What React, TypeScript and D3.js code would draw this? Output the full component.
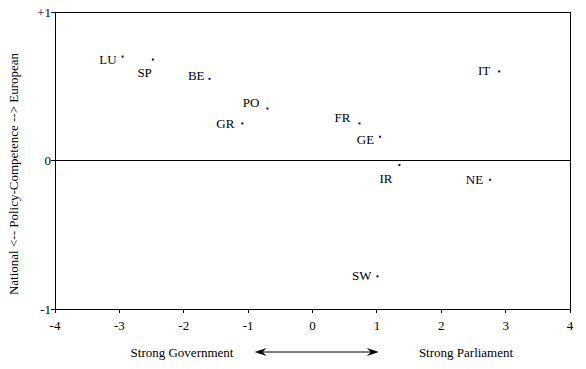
import React from "react";
import * as d3 from "d3";

// country codes and their positions
const countries = ["LU", "SP", "BE", "PO", "GR", "FR", "GE", "IR", "NE", "SW", "IT"];
const govParl = [-2.95, -2.48, -1.6, -0.7, -1.09, 0.73, 1.05, 1.35, 2.76, 1.01, 2.9];
const natEuro = [0.7, 0.68, 0.55, 0.35, 0.25, 0.25, 0.16, -0.03, -0.13, -0.78, 0.6];

const xTicks = [-4, -3, -2, -1, 0, 1, 2, 3, 4];
const yTicks = [1, 0, -1];
const yTickLabels = ["+1", "0", "-1"];

// label offset from the dot, in px (text-anchor end)
const labelDx = [-6, -1, -5, -8, -8, -9, -6, -7, -7, -6, -9];
const labelDy = [3, 13, -3, -6, 0, -6, 3, 13, 0, -1, -1];

const width = 586;
const height = 369;
const margin = { top: 12, right: 16, bottom: 60, left: 55 };
const font = "'Liberation Serif', 'Times New Roman', serif";

const App = () => {
  const x = d3
    .scaleLinear()
    .domain([-4, 4])
    .range([margin.left, width - margin.right]);
  const y = d3
    .scaleLinear()
    .domain([-1, 1])
    .range([height - margin.bottom, margin.top]);

  const arrowY = 352;
  const arrowL = x(-0.9);
  const arrowR = x(1.03);

  return (
    <svg
      width={width}
      height={height}
      style={{ position: "absolute", left: 0, top: 0, background: "#fff" }}
      fontFamily={font}
      fontSize={13}
    >
      {/* frame */}
      <rect
        x={x(-4)}
        y={y(1)}
        width={x(4) - x(-4)}
        height={y(-1) - y(1)}
        fill="none"
        stroke="#000"
        strokeWidth={1}
        shapeRendering="crispEdges"
      />
      <line x1={x(-4)} x2={x(4)} y1={y(0)} y2={y(0)} stroke="#000" shapeRendering="crispEdges" />

      {/* x axis */}
      {xTicks.map((t) => (
        <g key={t}>
          <line x1={x(t)} x2={x(t)} y1={y(-1)} y2={y(-1) + 4} stroke="#000" shapeRendering="crispEdges" />
          <text x={x(t)} y={y(-1) + 21} textAnchor="middle">
            {t}
          </text>
        </g>
      ))}

      {/* y axis */}
      {yTicks.map((t, i) => (
        <g key={t}>
          <line x1={x(-4) - 4} x2={x(-4)} y1={y(t)} y2={y(t)} stroke="#000" shapeRendering="crispEdges" />
          <text x={x(-4) - 4} y={y(t)} dy="0.35em" textAnchor="end">
            {yTickLabels[i]}
          </text>
        </g>
      ))}

      <text transform={`translate(18,174) rotate(-90)`} textAnchor="middle">
        National &lt;-- Policy-Competence --&gt; European
      </text>

      {/* points */}
      {countries.map((c, i) => (
        <g key={c}>
          <rect x={x(govParl[i]) - 1} y={y(natEuro[i]) - 1} width={2} height={2} fill="#000080" />
          <text
            x={x(govParl[i]) + labelDx[i]}
            y={y(natEuro[i]) + labelDy[i]}
            dy="0.35em"
            textAnchor="end"
          >
            {c}
          </text>
        </g>
      ))}

      {/* bottom annotation */}
      <text x={182} y={arrowY + 5} textAnchor="middle">
        Strong Government
      </text>
      <text x={466} y={arrowY + 5} textAnchor="middle">
        Strong Parliament
      </text>
      <line x1={arrowL + 6} x2={arrowR - 6} y1={arrowY} y2={arrowY} stroke="#000" />
      <path
        d={`M${arrowL},${arrowY} L${arrowL + 12},${arrowY - 4} L${arrowL + 8},${arrowY} L${arrowL + 12},${arrowY + 4} Z`}
        fill="#000"
      />
      <path
        d={`M${arrowR},${arrowY} L${arrowR - 12},${arrowY - 4} L${arrowR - 8},${arrowY} L${arrowR - 12},${arrowY + 4} Z`}
        fill="#000"
      />
    </svg>
  );
};

export default App;
